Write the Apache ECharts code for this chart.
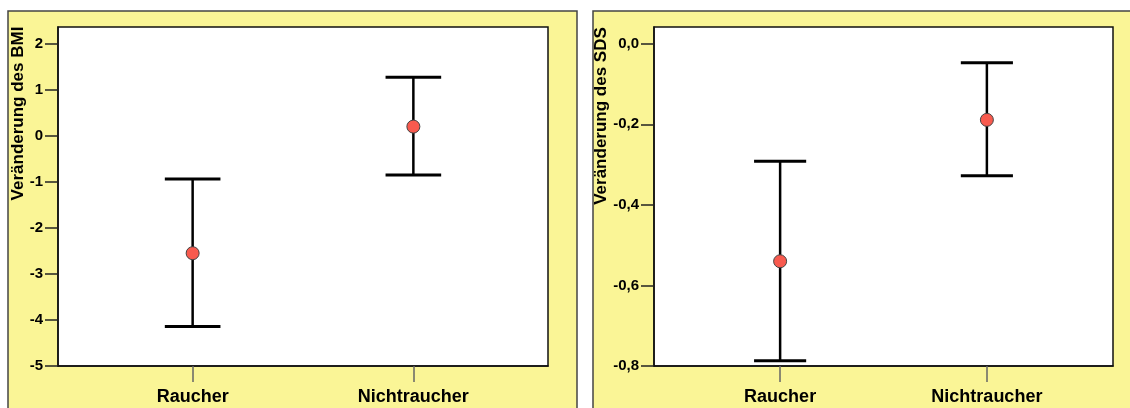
<!DOCTYPE html>
<html>
<head>
<meta charset="utf-8">
<script src="https://cdn.jsdelivr.net/npm/echarts@6/dist/echarts.min.js"></script>
<style>
html,body{margin:0;padding:0;background:#fff;}
#c{width:1130px;height:408px;}
</style>
</head>
<body>
<div id="c"></div>
<script>
// ---- data ----
const categories = ['Raucher', 'Nichtraucher'];
const catPos = [1, 2];
// BMI change: mean, lower, upper
const bmiMean  = [-2.55, 0.20];
const bmiLower = [-4.14, -0.85];
const bmiUpper = [-0.94, 1.27];
// SDS change: mean, lower, upper
const sdsMean  = [-0.540, -0.189];
const sdsLower = [-0.787, -0.328];
const sdsUpper = [-0.292, -0.047];
// tick values and labels
const bmiTicks = [-5, -4, -3, -2, -1, 0, 1, 2];
const bmiTickLabels = ['-5', '-4', '-3', '-2', '-1', '0', '1', '2'];
const sdsTicks = [-0.8, -0.6, -0.4, -0.2, 0.0];
const sdsTickLabels = ['-0,8', '-0,6', '-0,4', '-0,2', '0,0'];
const bmiTitle = 'Veränderung des BMI';
const sdsTitle = 'Veränderung des SDS';

const FONT = '"Liberation Sans", Arial, Helvetica, sans-serif';

function errData(lo, hi) { return catPos.map((x, i) => [x, lo[i], hi[i]]); }
function ptData(m) { return catPos.map((x, i) => [x, m[i]]); }

function renderErr(params, api) {
  const x = api.value(0), lo = api.value(1), hi = api.value(2);
  const hw = 0.126;
  const t = api.coord([x, hi]), b = api.coord([x, lo]);
  const tl = api.coord([x - hw, hi]), tr = api.coord([x + hw, hi]);
  const bl = api.coord([x - hw, lo]), br = api.coord([x + hw, lo]);
  const cap = {stroke: '#000', lineWidth: 3};
  return {type: 'group', children: [
    {type: 'line', shape: {x1: t[0], y1: t[1], x2: b[0], y2: b[1]}, style: {stroke: '#000', lineWidth: 2.5}},
    {type: 'line', shape: {x1: tl[0], y1: tl[1], x2: tr[0], y2: tr[1]}, style: cap},
    {type: 'line', shape: {x1: bl[0], y1: bl[1], x2: br[0], y2: br[1]}, style: cap}
  ]};
}

function xAxisCfg(gi) {
  return {
    type: 'value', gridIndex: gi, min: 0.39, max: 2.61,
    splitLine: {show: false},
    axisLine: {show: true, onZero: false, lineStyle: {color: '#111', width: 1.5}},
    axisTick: {show: true, customValues: catPos, length: 16, lineStyle: {color: '#666', width: 1.5}},
    axisLabel: {customValues: catPos, margin: 22,
      formatter: v => categories[catPos.indexOf(Math.round(v))] || '',
      fontFamily: FONT, fontWeight: 'bold', fontSize: 18, color: '#000'}
  };
}
function yAxisCfg(gi, min, max, ticks, labels, title, gap, pad) {
  return {
    type: 'value', gridIndex: gi, min: min, max: max,
    splitLine: {show: false},
    axisLine: {show: true, onZero: false, lineStyle: {color: '#111', width: 1.5}},
    axisTick: {show: true, customValues: ticks, length: 13, lineStyle: {color: '#222', width: 1.5}},
    axisLabel: {customValues: ticks, margin: 15,
      formatter: v => { let best = 0; ticks.forEach((t, i) => { if (Math.abs(t - v) < Math.abs(ticks[best] - v)) best = i; }); return labels[best]; },
      fontFamily: FONT, fontWeight: 'bold', fontSize: 15, color: '#000'},
    name: title, nameLocation: 'middle', nameGap: gap, nameMoveOverlap: false,
    nameTextStyle: {fontFamily: FONT, fontWeight: 'bold', fontSize: 17, color: '#000', padding: [0, 0, 0, pad]}
  };
}

const chart = echarts.init(document.getElementById('c'), null, {renderer: 'canvas'});
chart.setOption({
  animation: false,
  backgroundColor: '#fff',
  graphic: [
    {type: 'rect', z: -10, shape: {x: 8, y: 11, width: 569, height: 420},
     style: {fill: '#FAF596', stroke: '#444', lineWidth: 1.5}},
    {type: 'rect', z: -10, shape: {x: 593, y: 11, width: 560, height: 420},
     style: {fill: '#FAF596', stroke: '#444', lineWidth: 1.5}}
  ],
  grid: [
    {left: 58, top: 27, width: 490, height: 339, show: true, backgroundColor: '#fff', borderColor: '#111', borderWidth: 1.5},
    {left: 654, top: 27, width: 459, height: 339, show: true, backgroundColor: '#fff', borderColor: '#111', borderWidth: 1.5}
  ],
  xAxis: [xAxisCfg(0), xAxisCfg(1)],
  yAxis: [
    yAxisCfg(0, -5, 2.363, bmiTicks, bmiTickLabels, bmiTitle, 31, 166),
    yAxisCfg(1, -0.8, 0.0415, sdsTicks, sdsTickLabels, sdsTitle, 44, 161)
  ],
  series: [
    {type: 'custom', xAxisIndex: 0, yAxisIndex: 0, renderItem: renderErr, data: errData(bmiLower, bmiUpper), encode: {x: 0, y: [1, 2]}, z: 2},
    {type: 'scatter', xAxisIndex: 0, yAxisIndex: 0, data: ptData(bmiMean), symbolSize: 13,
     itemStyle: {color: '#F85A4E', borderColor: '#444', borderWidth: 1, opacity: 1}, z: 3},
    {type: 'custom', xAxisIndex: 1, yAxisIndex: 1, renderItem: renderErr, data: errData(sdsLower, sdsUpper), encode: {x: 0, y: [1, 2]}, z: 2},
    {type: 'scatter', xAxisIndex: 1, yAxisIndex: 1, data: ptData(sdsMean), symbolSize: 13,
     itemStyle: {color: '#F85A4E', borderColor: '#444', borderWidth: 1, opacity: 1}, z: 3}
  ]
});
</script>
</body>
</html>
